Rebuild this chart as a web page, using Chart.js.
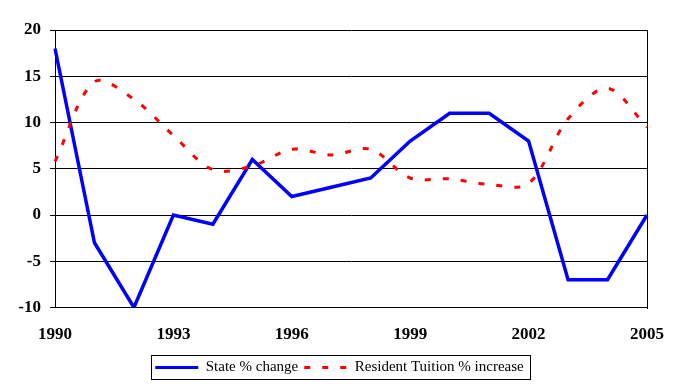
<!DOCTYPE html>
<html><head><meta charset="utf-8">
<script src="https://cdn.jsdelivr.net/npm/chart.js@4/dist/chart.umd.min.js"></script>
<style>html,body{margin:0;padding:0;background:#fff}#wrap{width:682px;height:392px}</style>
</head><body><div id="wrap"><canvas id="c" width="682" height="392"></canvas></div>
<script>
const years = ['1990','1991','1992','1993','1994','1995','1996','1997','1998','1999','2000','2001','2002','2003','2004','2005'];
const stateChange = [18,-3,-10,0,-1,6,2,3,4,8,11,11,8,-7,-7,0];
const tuitionIncrease = [5.8,14.4,12.5,8.6,4.9,5.3,7.1,6.5,7.1,4.0,3.9,3.3,3.4,10.4,13.7,9.5];
const yMin = -10, yMax = 20, yStep = 5;
const seriesNames = ['State % change','Resident Tuition % increase'];

const frame = {
  id: 'frame',
  afterLayout(chart) {
    const lg = chart.legend;
    if (lg) { lg.left += 16; lg.right += 16; }
  },
  beforeDatasetsDraw(chart) {
    const {ctx, chartArea: a} = chart;
    ctx.save();
    ctx.strokeStyle = '#000'; ctx.lineWidth = 1;
    const x = Math.round(a.right) + 0.5;
    ctx.beginPath(); ctx.moveTo(x, Math.round(a.top)); ctx.lineTo(x, Math.round(a.bottom) + 1); ctx.stroke();
    ctx.restore();
  },
  afterDraw(chart) {
    const hb = chart.legend && chart.legend.legendHitBoxes;
    if (!hb || !hb.length) return;
    const l = Math.min(...hb.map(h => h.left));
    const r = Math.max(...hb.map(h => h.left + h.width));
    const t = Math.min(...hb.map(h => h.top));
    const b = Math.max(...hb.map(h => h.top + h.height));
    const cy = (t + b) / 2;
    const ctx = chart.ctx;
    ctx.save();
    ctx.strokeStyle = '#000'; ctx.lineWidth = 1;
    ctx.strokeRect(Math.round(l - 4.5) + 0.5, Math.round(cy - 12.5) + 0.5, Math.round(r - l + 11), 24);
    ctx.restore();
  }
};

const tickFont = {family: "'Liberation Serif', 'Times New Roman', serif", size: 17, weight: 'bold'};

new Chart(document.getElementById('c'), {
  type: 'line',
  data: {
    labels: years,
    datasets: [
      {label: seriesNames[0], data: stateChange, borderColor: '#0000FF', backgroundColor: '#0000FF',
       borderWidth: 3.5, pointRadius: 0, tension: 0, fill: false, order: 1},
      {label: seriesNames[1], data: tuitionIncrease, borderColor: '#FF0000', backgroundColor: '#FF0000',
       borderWidth: 3, borderDash: [6, 12], pointRadius: 0, tension: 0.33, fill: false, order: 0}
    ]
  },
  options: {
    responsive: false, animation: false, devicePixelRatio: 1,
    layout: {padding: {top: 30, right: 35, left: 0, bottom: 7}},
    plugins: {
      tooltip: {enabled: false},
      legend: {
        position: 'bottom',
        labels: {
          usePointStyle: true, pointStyle: 'line', pointStyleWidth: 43, padding: 6,
          color: '#000', font: {family: "'Liberation Serif', 'Times New Roman', serif", size: 15},
          sort: (a, b) => a.datasetIndex - b.datasetIndex,
          generateLabels: chart => {
            const items = Chart.defaults.plugins.legend.labels.generateLabels(chart);
            items.forEach(it => {
              const ds = chart.data.datasets[it.datasetIndex];
              it.lineWidth = 3;
              it.lineDash = ds.borderDash || [];
              it.strokeStyle = ds.borderColor;
              it.fillStyle = ds.borderColor;
              it.pointStyle = 'line';
              it.lineCap = 'butt';
            });
            return items;
          }
        }
      }
    },
    scales: {
      x: {
        type: 'category', offset: false,
        grid: {display: false},
        border: {display: true, color: '#000', width: 1},
        ticks: {autoSkip: false, maxRotation: 0, padding: 9, color: '#000', font: tickFont,
          callback: (v, i) => (i % 3 === 0 ? years[i] : '')},
        afterFit: s => { s.height = 46.5; }
      },
      y: {
        min: yMin, max: yMax,
        grid: {color: '#000', lineWidth: 1, tickLength: 5, drawTicks: true},
        border: {display: true, color: '#000', width: 1},
        ticks: {stepSize: yStep, padding: 9, color: '#000', font: tickFont},
        afterFit: s => { s.width = 55; }
      }
    }
  },
  plugins: [frame]
});
</script></body></html>
